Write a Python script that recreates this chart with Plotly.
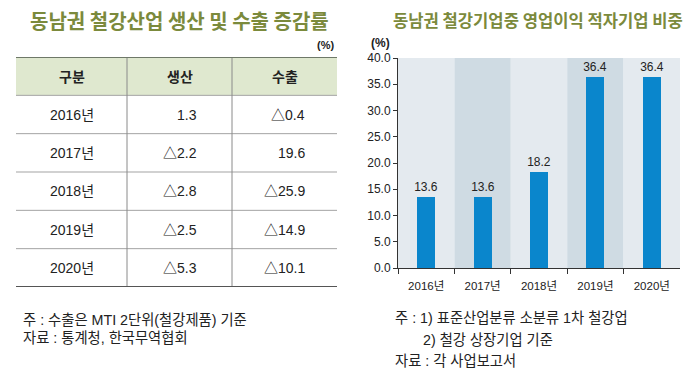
import plotly.graph_objects as go

# ---------------- data ----------------
table_header = ["구분", "생산", "수출"]
table_years = ["2016년", "2017년", "2018년", "2019년", "2020년"]
production = ["1.3", "△2.2", "△2.8", "△2.5", "△5.3"]
exports = ["△0.4", "19.6", "△25.9", "△14.9", "△10.1"]

bar_years = ["2016년", "2017년", "2018년", "2019년", "2020년"]
deficit_share = [13.6, 13.6, 18.2, 36.4, 36.4]
y_ticks = [0, 5, 10, 15, 20, 25, 30, 35, 40]

left_title = "동남권 철강산업 생산 및 수출 증감률"
right_title = "동남권 철강기업중 영업이익 적자기업 비중"
left_notes = ["주 : 수출은 MTI 2단위(철강제품) 기준", "자료 : 통계청, 한국무역협회"]
right_notes = ["주 : 1) 표준산업분류 소분류 1차 철강업", "2) 철강 상장기업 기준", "자료 : 각 사업보고서"]

# ---------------- styles ----------------
W, H = 700, 371
FONT = "Liberation Sans, Noto Sans CJK KR, sans-serif"
TFONT = "Noto Sans CJK KR, sans-serif"
TITLE_COLOR = "#7b8a3c"
BAR_COLOR = "#0a86cc"
BAND_LIGHT = "#e4eaef"
BAND_DARK = "#cfdbe3"
col_widths = [111, 105, 105]


def py(pix):
    return 1 - pix / H


def paper_text(txt, xp, yp, size, xanchor="left", family=FONT, color="#222"):
    fig.add_annotation(x=xp / W, y=py(yp), xref="paper", yref="paper", xanchor=xanchor,
                       yanchor="middle", text=txt, showarrow=False,
                       font=dict(family=family, size=size, color=color))


fig = go.Figure()

# ---------------- bar chart ----------------
fig.add_trace(go.Bar(
    x=bar_years, y=deficit_share, width=0.32,
    marker=dict(color=BAR_COLOR, line=dict(width=0)),
    text=[f"{v:.1f}" for v in deficit_share], textposition="outside",
    constraintext="none",
    textfont=dict(family=FONT, size=12, color="#222"),
    cliponaxis=False, xaxis="x", yaxis="y", showlegend=False,
))

for i, _ in enumerate(bar_years):
    fig.add_shape(type="rect", xref="x", yref="y", x0=i - 0.5, x1=i + 0.5,
                  y0=y_ticks[0], y1=y_ticks[-1], line=dict(width=0),
                  fillcolor=BAND_LIGHT if i % 2 == 0 else BAND_DARK, layer="below")

# ---------------- table ----------------
edges = [0]
for w in col_widths:
    edges.append(edges[-1] + w)
n_rows = len(table_years) + 1

fig.add_shape(type="rect", xref="x2", yref="y2", x0=edges[0], x1=edges[-1], y0=0, y1=1,
              fillcolor="#dfe8cf", line=dict(width=0), layer="below")
for r in range(1, n_rows):
    fig.add_shape(type="line", xref="x2", yref="y2", x0=edges[0], x1=edges[-1], y0=r, y1=r,
                  line=dict(color="#a3a3a3", width=1))
for e in edges[1:-1]:
    fig.add_shape(type="line", xref="x2", yref="y2", x0=e, x1=e, y0=0, y1=n_rows,
                  line=dict(color="#8a8a8a", width=1))
fig.add_shape(type="line", xref="x2", yref="y2", x0=edges[0], x1=edges[-1], y0=0, y1=0,
              line=dict(color="#6e7868", width=2))
fig.add_shape(type="line", xref="x2", yref="y2", x0=edges[0], x1=edges[-1], y0=n_rows, y1=n_rows,
              line=dict(color="#555555", width=2))

for c, h in enumerate(table_header):
    fig.add_annotation(x=(edges[c] + edges[c + 1]) / 2, y=0.5, xref="x2", yref="y2",
                       xanchor="center", yanchor="middle",
                       text=f"<b>{h}</b>", showarrow=False,
                       font=dict(family=TFONT, size=14, color="#222"))
for r, yr in enumerate(table_years):
    yc = r + 1.5
    fig.add_annotation(x=(edges[0] + edges[1]) / 2, y=yc, xref="x2", yref="y2",
                       xanchor="center", yanchor="middle",
                       text=yr, showarrow=False, font=dict(family=FONT, size=14, color="#222"))
    fig.add_annotation(x=edges[2], y=yc, xref="x2", yref="y2", xanchor="right", yanchor="middle",
                       xshift=-33, text=production[r], showarrow=False,
                       font=dict(family=FONT, size=14, color="#222"))
    fig.add_annotation(x=edges[3], y=yc, xref="x2", yref="y2", xanchor="right", yanchor="middle",
                       xshift=-30, text=exports[r], showarrow=False,
                       font=dict(family=FONT, size=14, color="#222"))

# ---------------- titles & notes ----------------
paper_text(f"<b>{left_title}</b>", 179, 21, 20, xanchor="center", family=TFONT, color=TITLE_COLOR)
paper_text(f"<b>{right_title}</b>", 538, 20, 16.6, xanchor="center", family=TFONT, color=TITLE_COLOR)
paper_text("<b>(%)</b>", 336, 45, 11, xanchor="right")
paper_text("<b>(%)</b>", 369, 43, 12, xanchor="left")

for txt, (xp, yp) in zip(left_notes, [(21, 320), (21, 338)]):
    paper_text(txt, xp, yp, 14.3)
for txt, (xp, yp) in zip(right_notes, [(393, 318), (421, 340), (393, 361)]):
    paper_text(txt, xp, yp, 14.3)

# ---------------- layout ----------------
fig.update_layout(
    width=W, height=H, margin=dict(l=0, r=0, t=0, b=0, autoexpand=False),
    paper_bgcolor="white", plot_bgcolor="white", bargap=0,
    xaxis=dict(domain=[398 / W, 680 / W], type="category", showgrid=False, showline=True,
               linecolor="#333", linewidth=1, ticks="outside", tickson="boundaries",
               ticklen=5, tickcolor="#333", tickfont=dict(family=FONT, size=11.5, color="#222"),
               ticklabelstandoff=7, fixedrange=True, automargin=False),
    yaxis=dict(domain=[py(268), py(58)], range=[y_ticks[0], y_ticks[-1]], tickvals=y_ticks,
               tickformat=".1f", showgrid=False, zeroline=False, showline=True, linecolor="#333",
               linewidth=1, ticks="outside", ticklen=4, tickcolor="#333",
               tickfont=dict(family=FONT, size=12, color="#222"), fixedrange=True,
               automargin=False),
    xaxis2=dict(domain=[16 / W, 337 / W], range=[edges[0], edges[-1]], visible=False,
                anchor="y2", fixedrange=True, automargin=False),
    yaxis2=dict(domain=[py(287), py(57)], range=[n_rows, 0], visible=False,
                anchor="x2", fixedrange=True, automargin=False),
)

fig.write_html("out.html", config={"displayModeBar": False},
               post_script="document.body.style.margin='0';")
